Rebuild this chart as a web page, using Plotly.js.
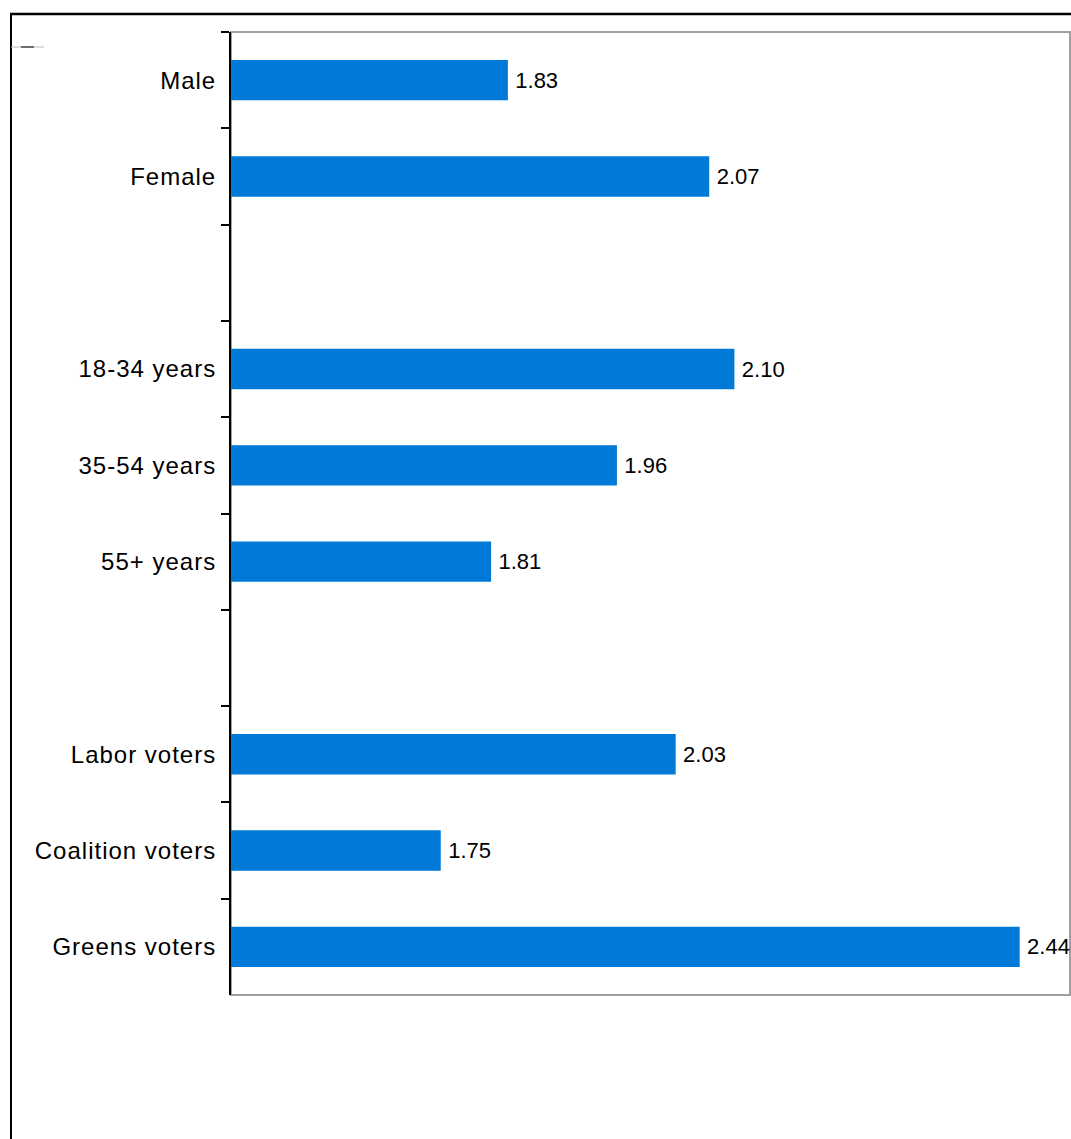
<!DOCTYPE html>
<html>
<head>
<meta charset="utf-8">
<script src="https://cdn.plot.ly/plotly-3.0.1.min.js"></script>
<style>
  html, body { margin: 0; padding: 0; background: #fff; }
  #chart { width: 1071px; height: 1139px; }
  .ytick text { letter-spacing: 1px; }
</style>
</head>
<body>
<div id="chart"></div>
<script>
const categories = ["Male", "Female", " ", "18-34 years", "35-54 years", "55+ years", "  ", "Labor voters", "Coalition voters", "Greens voters"];
const values = [1.83, 2.07, null, 2.10, 1.96, 1.81, null, 2.03, 1.75, 2.44];
const barColor = "rgb(0,122,214)";

const trace = {
  type: "bar",
  orientation: "h",
  y: categories,
  x: values,
  width: 0.42,
  marker: { color: barColor },
  text: values.map(v => v === null ? "" : "\u2009" + v.toFixed(2)),
  textposition: "outside",
  textfont: { family: "Liberation Sans, Arial, sans-serif", size: 22, color: "#000" },
  cliponaxis: false,
  hoverinfo: "none"
};

const layout = {
  width: 1071,
  height: 1139,
  margin: { l: 231, r: 1, t: 32, b: 144, pad: 0 },
  paper_bgcolor: "#fff",
  plot_bgcolor: "#fff",
  showlegend: false,
  font: { family: "Liberation Sans, Arial, sans-serif", size: 24, color: "#000" },
  xaxis: {
    range: [1.5, 2.5],
    visible: false,
    fixedrange: true
  },
  yaxis: {
    type: "category",
    categoryorder: "array",
    categoryarray: categories,
    autorange: "reversed",
    showline: true,
    linecolor: "#000",
    linewidth: 2,
    ticks: "outside",
    ticklen: 8,
    tickwidth: 2,
    tickcolor: "#000",
    tickson: "boundaries",
    showgrid: false,
    zeroline: false,
    ticklabelstandoff: 8,
    tickfont: { family: "Liberation Sans, Arial, sans-serif", size: 24, color: "#000" },
    fixedrange: true
  },
  shapes: [
    { type: "rect", xref: "paper", yref: "paper", x0: 0, x1: 1, y0: 0, y1: 1,
      line: { color: "#a0a0a0", width: 2 }, layer: "below" },
    { type: "line", xref: "paper", yref: "paper",
      x0: (10 - 231) / 839, x1: (1071 - 231) / 839,
      y0: 1 + (32 - 14) / 963, y1: 1 + (32 - 14) / 963,
      line: { color: "#000", width: 2.5 } },
    { type: "line", xref: "paper", yref: "paper",
      x0: (11 - 231) / 839, x1: (11 - 231) / 839,
      y0: 1 + (32 - 14) / 963, y1: -(1139 - 995) / 963,
      line: { color: "#000", width: 2 } },
    { type: "line", xref: "paper", yref: "paper",
      x0: (11 - 231) / 839, x1: (44 - 231) / 839,
      y0: 1 - (47 - 32) / 963, y1: 1 - (47 - 32) / 963,
      line: { color: "#bbb", width: 1 } },
    { type: "line", xref: "paper", yref: "paper",
      x0: (21 - 231) / 839, x1: (34 - 231) / 839,
      y0: 1 - (47 - 32) / 963, y1: 1 - (47 - 32) / 963,
      line: { color: "#000", width: 1 } }
  ]
};

Plotly.newPlot("chart", [trace], layout, { displayModeBar: false, staticPlot: true });
</script>
</body>
</html>
